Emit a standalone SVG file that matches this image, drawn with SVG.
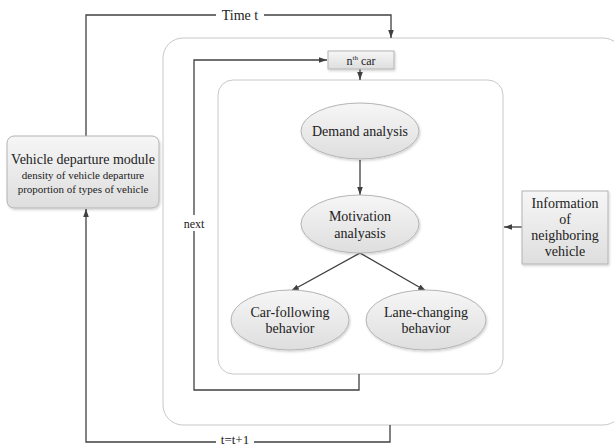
<svg xmlns="http://www.w3.org/2000/svg" width="614" height="447" viewBox="0 0 614 447">
<style>
text{font-family:"Liberation Serif","Times New Roman",serif;fill:#222;text-anchor:middle}
.t14{font-size:14px}
.t13{font-size:13px}
.t12{font-size:12px}
.t11{font-size:11px}
.frame{fill:#fff;stroke:#c8c8c8;stroke-width:1}
.node{fill:url(#g);stroke:#b4b4b4;stroke-width:1;filter:url(#sh)}
.conn{fill:none;stroke:#404040;stroke-width:1.3}
</style>
<defs>
<linearGradient id="g" x1="0" y1="0" x2="0" y2="1">
<stop offset="0" stop-color="#f6f6f6"/>
<stop offset="1" stop-color="#dedede"/>
</linearGradient>
<filter id="sh" x="-10%" y="-10%" width="130%" height="130%">
<feDropShadow dx="1" dy="1.5" stdDeviation="1" flood-color="#000" flood-opacity="0.18"/>
</filter>
<marker id="ar" viewBox="0 0 10 10" refX="10" refY="5" markerWidth="8" markerHeight="8" orient="auto" markerUnits="userSpaceOnUse">
<path d="M0,1.5 L10,5 L0,8.5 z" fill="#404040"/>
</marker>
</defs>
<g id="outer-frame"><rect class="frame" x="163" y="38" width="460" height="387" rx="20"/></g>
<g id="inner-frame"><rect class="frame" x="218" y="80" width="285" height="294" rx="15"/></g>
<g id="connectors">
<polyline class="conn" points="86,136 86,15 391,15 391,38" marker-end="url(#ar)"/>
<polyline class="conn" points="390,425 390,442 86,442 86,209" marker-end="url(#ar)"/>
<polyline class="conn" points="359,374 359,390 194,390 194,60 327,60" marker-end="url(#ar)"/>
<line class="conn" x1="360" y1="69" x2="360" y2="80" marker-end="url(#ar)"/>
<line class="conn" x1="360" y1="160" x2="360" y2="195" marker-end="url(#ar)"/>
<line class="conn" x1="360" y1="253" x2="291" y2="291" marker-end="url(#ar)"/>
<line class="conn" x1="360" y1="253" x2="426" y2="291" marker-end="url(#ar)"/>
<line class="conn" x1="522" y1="227" x2="504" y2="227" marker-end="url(#ar)"/>
<rect x="216" y="7" width="48" height="16" fill="#fff"/>
<text class="t14" x="240" y="20">Time t</text>
<rect x="216" y="434" width="38" height="13" fill="#fff"/>
<text class="t13" x="235" y="444">t=t+1</text>
<rect x="180" y="215" width="28" height="16" fill="#fff"/>
<text class="t12" x="194" y="228">next</text>
</g>
<g id="departure-module">
<rect class="node" x="7" y="136" width="152" height="72" rx="7"/>
<text class="t14" x="83" y="164">Vehicle departure module</text>
<text class="t11" x="83" y="179">density of vehicle departure</text>
<text class="t11" x="83" y="193">proportion of types of vehicle</text>
</g>
<g id="nth-car">
<rect class="node" x="328" y="51" width="66" height="18"/>
<text class="t12" x="361" y="65">n<tspan font-size="7" dy="-5">th</tspan><tspan dy="5"> car</tspan></text>
</g>
<g id="demand">
<ellipse class="node" cx="360" cy="131" rx="59" ry="28"/>
<text class="t14" x="360" y="136">Demand analysis</text>
</g>
<g id="motivation">
<ellipse class="node" cx="360" cy="224" rx="59" ry="29"/>
<text class="t14" x="360" y="221">Motivation</text>
<text class="t14" x="360" y="238">analyasis</text>
</g>
<g id="car-following">
<ellipse class="node" cx="290" cy="320" rx="59" ry="30"/>
<text class="t14" x="290" y="317">Car-following</text>
<text class="t14" x="290" y="333">behavior</text>
</g>
<g id="lane-changing">
<ellipse class="node" cx="426" cy="320" rx="60" ry="30"/>
<text class="t14" x="426" y="317">Lane-changing</text>
<text class="t14" x="426" y="333">behavior</text>
</g>
<g id="information">
<rect class="node" x="522" y="191" width="86" height="73"/>
<text class="t14" x="565" y="208">Information</text>
<text class="t14" x="565" y="224">of</text>
<text class="t14" x="565" y="240">neighboring</text>
<text class="t14" x="565" y="256">vehicle</text>
</g>
</svg>
